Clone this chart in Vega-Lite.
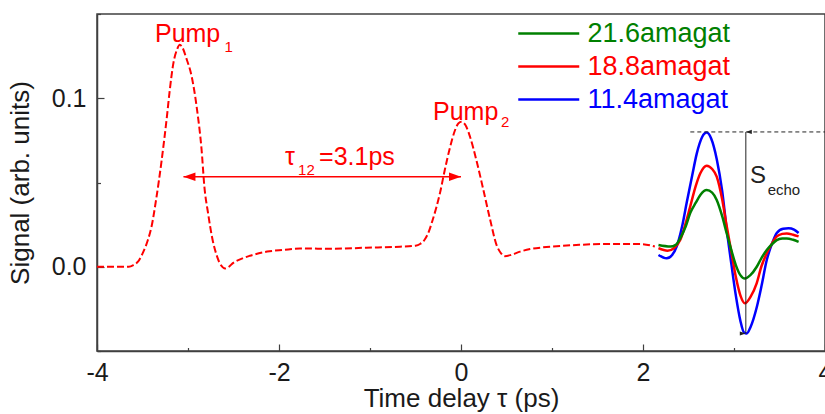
{
  "$schema": "https://vega.github.io/schema/vega-lite/v6.json",
  "autosize": "none",
  "width": 728,
  "height": 337,
  "padding": {"left": 97, "top": 14, "right": 0, "bottom": 63},
  "background": "white",
  "config": {
    "font": "Liberation Sans",
    "view": {"stroke": "#404040", "strokeWidth": 1.5},
    "axis": {
      "grid": false,
      "domainColor": "#404040",
      "domainWidth": 1.5,
      "tickColor": "#404040",
      "tickWidth": 1.2,
      "labelColor": "#1a1a1a",
      "titleColor": "#1a1a1a",
      "labelFont": "Liberation Sans",
      "titleFont": "Liberation Sans",
      "labelFontSize": 25,
      "titleFontSize": 26,
      "titleFontWeight": "normal",
      "labelFlush": false,
      "labelOverlap": false,
      "labelBound": false
    }
  },
  "datasets": {
    "pump": [
      {"t": -4.00, "s": 0.000}, {"t": -3.80, "s": 0.000}, {"t": -3.65, "s": 0.000},
      {"t": -3.60, "s": 0.001}, {"t": -3.55, "s": 0.003}, {"t": -3.49, "s": 0.009},
      {"t": -3.44, "s": 0.016}, {"t": -3.40, "s": 0.024}, {"t": -3.35, "s": 0.040},
      {"t": -3.29, "s": 0.063}, {"t": -3.23, "s": 0.090}, {"t": -3.20, "s": 0.105},
      {"t": -3.16, "s": 0.121}, {"t": -3.12, "s": 0.129}, {"t": -3.09, "s": 0.1317},
      {"t": -3.06, "s": 0.130}, {"t": -3.02, "s": 0.124}, {"t": -2.96, "s": 0.113},
      {"t": -2.90, "s": 0.093}, {"t": -2.85, "s": 0.069}, {"t": -2.82, "s": 0.0475},
      {"t": -2.78, "s": 0.032}, {"t": -2.73, "s": 0.016}, {"t": -2.68, "s": 0.006},
      {"t": -2.65, "s": 0.002}, {"t": -2.59, "s": -0.001}, {"t": -2.55, "s": 0.000},
      {"t": -2.51, "s": 0.002}, {"t": -2.40, "s": 0.005}, {"t": -2.32, "s": 0.0065},
      {"t": -2.13, "s": 0.009}, {"t": -1.95, "s": 0.010}, {"t": -1.77, "s": 0.0108},
      {"t": -1.40, "s": 0.0107}, {"t": -1.04, "s": 0.0113}, {"t": -0.67, "s": 0.0119},
      {"t": -0.50, "s": 0.0125}, {"t": -0.45, "s": 0.0135}, {"t": -0.40, "s": 0.016},
      {"t": -0.36, "s": 0.020}, {"t": -0.31, "s": 0.028}, {"t": -0.23, "s": 0.044},
      {"t": -0.18, "s": 0.057}, {"t": -0.12, "s": 0.071}, {"t": -0.066, "s": 0.081},
      {"t": -0.03, "s": 0.085}, {"t": 0.007, "s": 0.086}, {"t": 0.05, "s": 0.084},
      {"t": 0.10, "s": 0.077}, {"t": 0.17, "s": 0.063}, {"t": 0.24, "s": 0.047},
      {"t": 0.32, "s": 0.028}, {"t": 0.39, "s": 0.013}, {"t": 0.44, "s": 0.008},
      {"t": 0.48, "s": 0.0063}, {"t": 0.55, "s": 0.007}, {"t": 0.65, "s": 0.009},
      {"t": 0.76, "s": 0.0105}, {"t": 0.90, "s": 0.0115}, {"t": 1.09, "s": 0.0123},
      {"t": 1.30, "s": 0.013}, {"t": 1.53, "s": 0.0135}, {"t": 1.75, "s": 0.0135},
      {"t": 1.97, "s": 0.0135}, {"t": 2.13, "s": 0.012}
    ],
    "echo": [
      {"d": "11.4amagat", "t": 2.17, "s": 0.007}, {"d": "11.4amagat", "t": 2.26, "s": 0.005},
      {"d": "11.4amagat", "t": 2.32, "s": 0.007}, {"d": "11.4amagat", "t": 2.37, "s": 0.012},
      {"d": "11.4amagat", "t": 2.43, "s": 0.024}, {"d": "11.4amagat", "t": 2.48, "s": 0.038},
      {"d": "11.4amagat", "t": 2.54, "s": 0.054}, {"d": "11.4amagat", "t": 2.59, "s": 0.067},
      {"d": "11.4amagat", "t": 2.65, "s": 0.077}, {"d": "11.4amagat", "t": 2.70, "s": 0.0796},
      {"d": "11.4amagat", "t": 2.75, "s": 0.076}, {"d": "11.4amagat", "t": 2.81, "s": 0.064},
      {"d": "11.4amagat", "t": 2.87, "s": 0.045}, {"d": "11.4amagat", "t": 2.92, "s": 0.022},
      {"d": "11.4amagat", "t": 2.97, "s": 0.002}, {"d": "11.4amagat", "t": 3.02, "s": -0.017},
      {"d": "11.4amagat", "t": 3.07, "s": -0.032}, {"d": "11.4amagat", "t": 3.11, "s": -0.039},
      {"d": "11.4amagat", "t": 3.14, "s": -0.0396}, {"d": "11.4amagat", "t": 3.18, "s": -0.036},
      {"d": "11.4amagat", "t": 3.25, "s": -0.024}, {"d": "11.4amagat", "t": 3.30, "s": -0.012},
      {"d": "11.4amagat", "t": 3.36, "s": 0.004}, {"d": "11.4amagat", "t": 3.42, "s": 0.014},
      {"d": "11.4amagat", "t": 3.47, "s": 0.020}, {"d": "11.4amagat", "t": 3.54, "s": 0.0225},
      {"d": "11.4amagat", "t": 3.60, "s": 0.0228}, {"d": "11.4amagat", "t": 3.66, "s": 0.022},
      {"d": "11.4amagat", "t": 3.71, "s": 0.020},
      {"d": "18.8amagat", "t": 2.17, "s": 0.011}, {"d": "18.8amagat", "t": 2.27, "s": 0.0095},
      {"d": "18.8amagat", "t": 2.34, "s": 0.011}, {"d": "18.8amagat", "t": 2.41, "s": 0.016},
      {"d": "18.8amagat", "t": 2.47, "s": 0.026}, {"d": "18.8amagat", "t": 2.52, "s": 0.036},
      {"d": "18.8amagat", "t": 2.58, "s": 0.048}, {"d": "18.8amagat", "t": 2.63, "s": 0.0555},
      {"d": "18.8amagat", "t": 2.70, "s": 0.060}, {"d": "18.8amagat", "t": 2.76, "s": 0.058},
      {"d": "18.8amagat", "t": 2.81, "s": 0.0535}, {"d": "18.8amagat", "t": 2.87, "s": 0.040},
      {"d": "18.8amagat", "t": 2.92, "s": 0.024}, {"d": "18.8amagat", "t": 2.97, "s": 0.009},
      {"d": "18.8amagat", "t": 3.02, "s": -0.006}, {"d": "18.8amagat", "t": 3.07, "s": -0.017},
      {"d": "18.8amagat", "t": 3.12, "s": -0.0217}, {"d": "18.8amagat", "t": 3.18, "s": -0.018},
      {"d": "18.8amagat", "t": 3.25, "s": -0.0097}, {"d": "18.8amagat", "t": 3.30, "s": 0.000},
      {"d": "18.8amagat", "t": 3.36, "s": 0.008}, {"d": "18.8amagat", "t": 3.42, "s": 0.014},
      {"d": "18.8amagat", "t": 3.47, "s": 0.018}, {"d": "18.8amagat", "t": 3.53, "s": 0.0195},
      {"d": "18.8amagat", "t": 3.58, "s": 0.0198}, {"d": "18.8amagat", "t": 3.65, "s": 0.019},
      {"d": "18.8amagat", "t": 3.71, "s": 0.018},
      {"d": "21.6amagat", "t": 2.17, "s": 0.0129}, {"d": "21.6amagat", "t": 2.30, "s": 0.012},
      {"d": "21.6amagat", "t": 2.36, "s": 0.013}, {"d": "21.6amagat", "t": 2.41, "s": 0.017},
      {"d": "21.6amagat", "t": 2.47, "s": 0.024}, {"d": "21.6amagat", "t": 2.52, "s": 0.032},
      {"d": "21.6amagat", "t": 2.58, "s": 0.038}, {"d": "21.6amagat", "t": 2.63, "s": 0.0426},
      {"d": "21.6amagat", "t": 2.70, "s": 0.0455}, {"d": "21.6amagat", "t": 2.76, "s": 0.044},
      {"d": "21.6amagat", "t": 2.81, "s": 0.0396}, {"d": "21.6amagat", "t": 2.87, "s": 0.030},
      {"d": "21.6amagat", "t": 2.92, "s": 0.0198}, {"d": "21.6amagat", "t": 2.97, "s": 0.010},
      {"d": "21.6amagat", "t": 3.02, "s": 0.001}, {"d": "21.6amagat", "t": 3.07, "s": -0.005},
      {"d": "21.6amagat", "t": 3.12, "s": -0.007}, {"d": "21.6amagat", "t": 3.18, "s": -0.005},
      {"d": "21.6amagat", "t": 3.25, "s": 0.000}, {"d": "21.6amagat", "t": 3.30, "s": 0.005},
      {"d": "21.6amagat", "t": 3.36, "s": 0.0099}, {"d": "21.6amagat", "t": 3.42, "s": 0.0135},
      {"d": "21.6amagat", "t": 3.47, "s": 0.0158}, {"d": "21.6amagat", "t": 3.53, "s": 0.0167},
      {"d": "21.6amagat", "t": 3.58, "s": 0.0168}, {"d": "21.6amagat", "t": 3.65, "s": 0.016},
      {"d": "21.6amagat", "t": 3.71, "s": 0.0148}
    ]
  },
  "layer": [
    {
      "data": {"name": "pump"},
      "mark": {"type": "line", "color": "#ff0000", "strokeWidth": 2, "strokeDash": [7, 3], "interpolate": "monotone"},
      "encoding": {
        "x": {
          "field": "t", "type": "quantitative",
          "scale": {"domain": [-4, 4], "nice": false, "zero": false},
          "axis": {
            "title": "Time delay τ (ps)",
            "values": [-4, -3, -2, -1, 0, 1, 2, 3, 4],
            "labelExpr": "datum.value % 2 === 0 ? '' + datum.value : ''",
            "tickSize": {"condition": {"test": "datum.value % 2 !== 0", "value": -3.5}, "value": -7},
            "labelPadding": 16,
            "titleY": 55,
            "titleBaseline": "alphabetic"
          }
        },
        "y": {
          "field": "s", "type": "quantitative",
          "scale": {"domain": [-0.05, 0.15], "nice": false, "zero": false},
          "axis": {
            "title": "Signal (arb. units)",
            "values": [-0.05, 0, 0.05, 0.1, 0.15],
            "labelExpr": "abs(datum.value) < 1e-6 || abs(datum.value - 0.1) < 1e-6 ? format(datum.value, '.1f') : ''",
            "tickSize": {"condition": {"test": "abs(datum.value) > 1e-6 && abs(datum.value - 0.1) > 1e-6", "value": -3.5}, "value": -7},
            "labelPadding": 18,
            "titleX": -69,
            "titleBaseline": "alphabetic"
          }
        }
      }
    },
    {
      "data": {"name": "echo"},
      "mark": {"type": "line", "strokeWidth": 2.5, "interpolate": "monotone"},
      "encoding": {
        "x": {"field": "t", "type": "quantitative"},
        "y": {"field": "s", "type": "quantitative"},
        "color": {
          "field": "d", "type": "nominal",
          "scale": {"domain": ["21.6amagat", "18.8amagat", "11.4amagat"], "range": ["#008000", "#ff0000", "#0000ff"]},
          "legend": {
            "title": null,
            "orient": "none",
            "legendX": 450.5,
            "legendY": 3,
            "symbolType": "M-3,0H1",
            "symbolSize": 930,
            "symbolStrokeWidth": 2.5,
            "labelFontSize": 27,
            "labelFont": "Liberation Sans",
            "labelOffset": 7,
            "labelLimit": 400,
            "rowPadding": 3,
            "encode": {"labels": {"update": {"fill": {"scale": "color", "field": "value"}}}}
          }
        }
      }
    },
    {
      "data": {"values": [{"a": -3.05, "b": 0.0, "s": 0.0534}]},
      "mark": {"type": "rule", "color": "#ff0000", "strokeWidth": 1.5},
      "encoding": {
        "x": {"field": "a", "type": "quantitative"},
        "x2": {"field": "b"},
        "y": {"field": "s", "type": "quantitative"}
      }
    },
    {
      "data": {"values": [{"t": -3.05, "s": 0.0534, "dir": "left"}, {"t": 0.0, "s": 0.0534, "dir": "right"}]},
      "mark": {"type": "point", "filled": true, "color": "#ff0000", "size": 144, "opacity": 1},
      "encoding": {
        "x": {"field": "t", "type": "quantitative"},
        "y": {"field": "s", "type": "quantitative"},
        "shape": {
          "field": "dir", "type": "nominal", "legend": null,
          "scale": {"domain": ["left", "right"], "range": ["M0,0L2,-0.7L2,0.7Z", "M0,0L-2,-0.7L-2,0.7Z"]}
        }
      }
    },
    {
      "data": {"values": [{"a": 2.52, "b": 4.0, "s": 0.08}]},
      "mark": {"type": "rule", "color": "#222222", "strokeWidth": 1, "strokeDash": [4, 3]},
      "encoding": {
        "x": {"field": "a", "type": "quantitative"},
        "x2": {"field": "b"},
        "y": {"field": "s", "type": "quantitative"}
      }
    },
    {
      "data": {"values": [{"t": 3.13, "a": 0.08, "b": -0.0396}]},
      "mark": {"type": "rule", "color": "#222222", "strokeWidth": 1},
      "encoding": {
        "x": {"field": "t", "type": "quantitative"},
        "y": {"field": "a", "type": "quantitative"},
        "y2": {"field": "b"}
      }
    },
    {
      "data": {"values": [{"t": 3.13, "s": 0.08, "dir": "up"}, {"t": 3.13, "s": -0.0396, "dir": "down"}]},
      "mark": {"type": "point", "filled": true, "color": "#222222", "size": 36, "opacity": 1},
      "encoding": {
        "x": {"field": "t", "type": "quantitative"},
        "y": {"field": "s", "type": "quantitative"},
        "shape": {
          "field": "dir", "type": "nominal", "legend": null,
          "scale": {"domain": ["up", "down"], "range": ["M0,0L-0.6,2L0.6,2Z", "M0,0L-0.6,-2L0.6,-2Z"]}
        }
      }
    },
    {
      "data": {"values": [
        {"t": -3.363, "s": 0.1336, "txt": "Pump"},
        {"t": -0.308, "s": 0.0871, "txt": "Pump"},
        {"t": -1.934, "s": 0.0604, "txt": "τ"},
        {"t": -1.56, "s": 0.0604, "txt": "=3.1ps"}
      ]},
      "mark": {"type": "text", "color": "#ff0000", "fontSize": 25, "align": "left", "baseline": "alphabetic"},
      "encoding": {
        "x": {"field": "t", "type": "quantitative"},
        "y": {"field": "s", "type": "quantitative"},
        "text": {"field": "txt"}
      }
    },
    {
      "data": {"values": [
        {"t": -2.6, "s": 0.1275, "txt": "1"},
        {"t": 0.44, "s": 0.083, "txt": "2"},
        {"t": -1.79, "s": 0.0545, "txt": "12"}
      ]},
      "mark": {"type": "text", "color": "#ff0000", "fontSize": 15, "align": "left", "baseline": "alphabetic"},
      "encoding": {
        "x": {"field": "t", "type": "quantitative"},
        "y": {"field": "s", "type": "quantitative"},
        "text": {"field": "txt"}
      }
    },
    {
      "data": {"values": [{"t": 3.176, "s": 0.0497, "txt": "S"}]},
      "mark": {"type": "text", "color": "#222222", "fontSize": 24, "align": "left", "baseline": "alphabetic"},
      "encoding": {
        "x": {"field": "t", "type": "quantitative"},
        "y": {"field": "s", "type": "quantitative"},
        "text": {"field": "txt"}
      }
    },
    {
      "data": {"values": [{"t": 3.37, "s": 0.0425, "txt": "echo"}]},
      "mark": {"type": "text", "color": "#222222", "fontSize": 15, "align": "left", "baseline": "alphabetic"},
      "encoding": {
        "x": {"field": "t", "type": "quantitative"},
        "y": {"field": "s", "type": "quantitative"},
        "text": {"field": "txt"}
      }
    }
  ]
}
